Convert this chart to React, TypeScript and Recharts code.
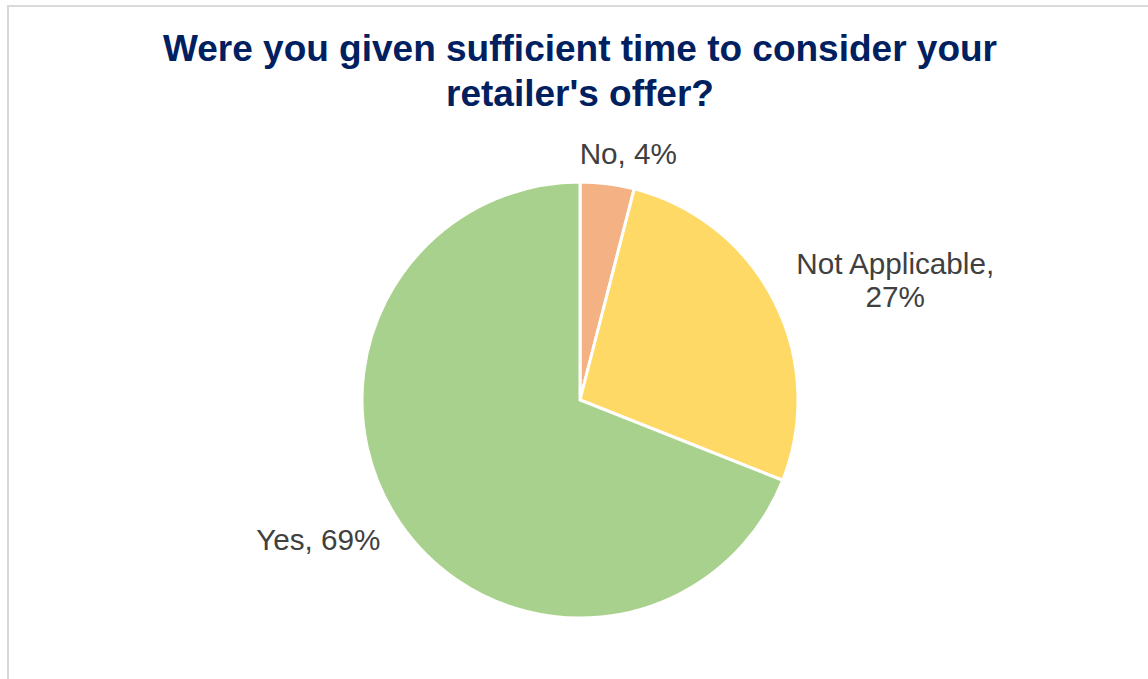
import React from "react";
import { PieChart, Pie, Cell } from "recharts";

const categories = ["No", "Not Applicable", "Yes"];
const values = [4, 27, 69];
const colors = ["#F4B183", "#FFD966", "#A9D18E"];
const titleLines = ["Were you given sufficient time to consider your", "retailer's offer?"];

const data = categories.map((name, i) => ({ name, value: values[i] }));

const LABEL_FONT = 29.7;
const LABEL_LINE = 33;
const FONT_FAMILY = "'Liberation Sans', Arial, sans-serif";

let ctx: CanvasRenderingContext2D | null = null;
function measure(text: string): number {
  if (!ctx) {
    const c = document.createElement("canvas");
    ctx = c.getContext("2d");
  }
  if (!ctx) return text.length * LABEL_FONT * 0.55;
  ctx.font = `${LABEL_FONT}px 'Liberation Sans', Arial, sans-serif`;
  return ctx.measureText(text).width;
}

const RADIAN = Math.PI / 180;

function renderLabel(props: any) {
  const { cx, cy, midAngle, outerRadius, name, value } = props;
  const full = `${name}, ${value}%`;
  let lines = [full];
  if (measure(full) > 160) {
    lines = [`${name},`, `${value}%`];
  }
  const w = Math.max(...lines.map(measure));
  const h = lines.length * LABEL_LINE;
  const cos = Math.cos(midAngle * RADIAN);
  const sin = Math.sin(midAngle * RADIAN);
  const ra = outerRadius + 14;
  const ax = cx + ra * cos;
  const ay = cy - ra * sin;
  const sgnSqrt = Math.sign(cos) * Math.sqrt(Math.abs(cos));
  const centerX = ax + (w / 2) * sgnSqrt + 16 * cos;
  const centerY = ay - (h / 2) * sin;
  return (
    <text
      x={centerX}
      y={centerY}
      textAnchor="middle"
      fill="#404040"
      style={{ fontFamily: FONT_FAMILY, fontSize: LABEL_FONT }}
    >
      {lines.map((l, i) => (
        <tspan
          key={i}
          x={centerX}
          y={centerY + (i - (lines.length - 1) / 2) * LABEL_LINE + LABEL_FONT * 0.35}
        >
          {l}
        </tspan>
      ))}
    </text>
  );
}

export default function App() {
  return (
    <div
      style={{
        position: "fixed",
        left: 0,
        top: 0,
        width: 1148,
        height: 679,
        overflow: "hidden",
        background: "#ffffff",
      }}
    >
      <div
        style={{
          position: "absolute",
          left: 7,
          top: 5,
          width: 1200,
          height: 720,
          border: "2px solid #d9d9d9",
          boxSizing: "border-box",
        }}
      />
      <div
        style={{
          position: "absolute",
          left: 80,
          width: 1000,
          top: 26,
          textAlign: "center",
          fontFamily: FONT_FAMILY,
          fontWeight: "bold",
          fontSize: 37,
          lineHeight: "45px",
          color: "#002060",
        }}
      >
        {titleLines.map((t, i) => (
          <div key={i}>{t}</div>
        ))}
      </div>
      <div style={{ position: "absolute", left: 0, top: 0 }}>
        <PieChart width={1148} height={679} margin={{ top: 0, right: 0, bottom: 0, left: 0 }}>
          <Pie
            data={data}
            dataKey="value"
            nameKey="name"
            cx={580}
            cy={400}
            outerRadius={218}
            startAngle={90}
            endAngle={-270}
            stroke="#ffffff"
            strokeWidth={3}
            labelLine={false}
            label={renderLabel}
            isAnimationActive={false}
          >
            {data.map((d, i) => (
              <Cell key={d.name} fill={colors[i]} />
            ))}
          </Pie>
        </PieChart>
      </div>
    </div>
  );
}
